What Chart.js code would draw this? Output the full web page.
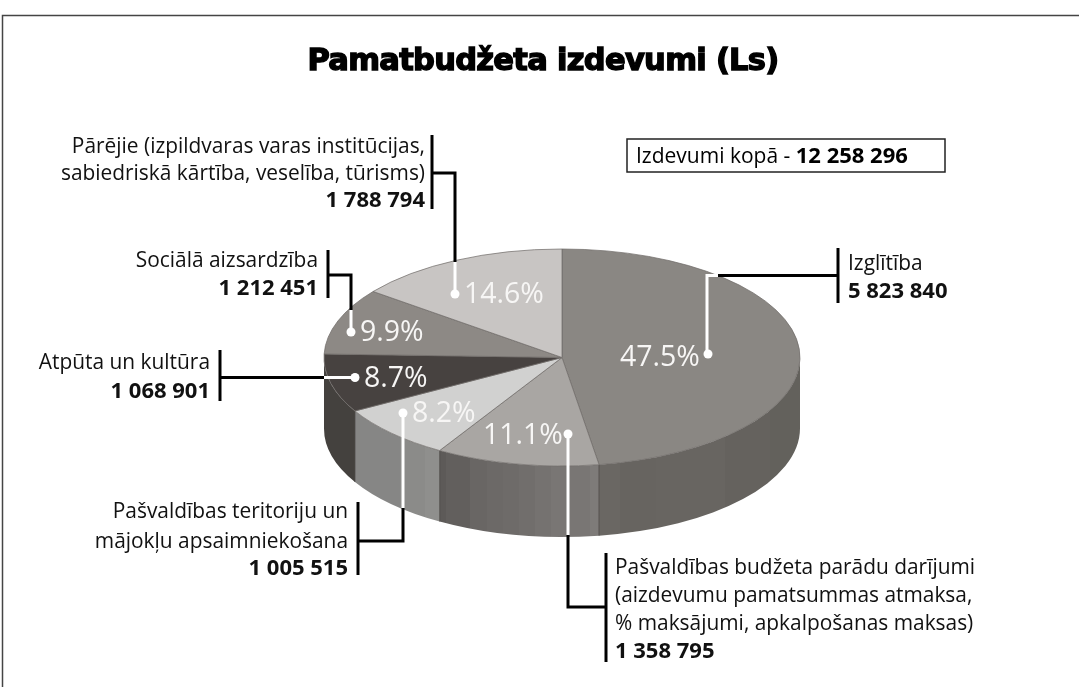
<!DOCTYPE html>
<html>
<head>
<meta charset="utf-8">
<title>Pamatbudžeta izdevumi (Ls)</title>
<script src="https://cdn.jsdelivr.net/npm/chart.js@4"></script>
<style>
    html, body { margin: 0; padding: 0; background: #fff; overflow: hidden; }
    canvas { display: block; }
</style>
</head>
<body>
<canvas id="pie" width="1079" height="687"></canvas>
<script>
/* ── dati ── */
const categories = ['Izglītība', 'Pašvaldības budžeta parādu darījumi', 'Pašvaldības teritoriju un mājokļu apsaimniekošana', 'Atpūta un kultūra', 'Sociālā aizsardzība', 'Pārējie'];
const amounts = [5823840, 1358795, 1005515, 1068901, 1212451, 1788794];
const amountLabels = ['5 823 840', '1 358 795', '1 005 515', '1 068 901', '1 212 451', '1 788 794'];
const totalLabel = '12 258 296';
const titleText = 'Pamatbudžeta izdevumi (Ls)';

/* ── izskats ── */
const topColors = ['#8a8783', '#a9a6a3', '#d1d1d0', '#474240', '#8d8985', '#c8c5c3'];
const sideBands = [
    [[598, '#6a6763'], [620, '#676460'], [656, '#686561'], [725, '#65625e'], [770, '#63615c'], [802, '#5f5d59']],
    [[439, '#5d5a58'], [446, '#625f5d'], [470, '#696664'], [487, '#6c6967'], [503, '#6e6b69'], [519, '#716e6c'], [535, '#757270'], [551, '#797674'], [590, '#7e7b79'], [599, '#85827f']],
    [[354, '#868685'], [400, '#8b8b89'], [425, '#8f8f8d'], [440, '#888886']],
    [[323, '#44413e'], [356, '#403d3a']],
];
const PIE = { rx: 238, ry: 108.5, cy: 357.5, depth: 71 };
const FONT = '"Open Sans", sans-serif';

// teksta bloki: x, izlīdzināšana, rindu bāzes līnijas; pēdējā rinda treknrakstā
const textBlocks = [
    { x: 848, align: 'left', rows: [['Izglītība', 270], [amountLabels[0], 298]] },
    { x: 615, align: 'left', rows: [['Pašvaldības budžeta parādu darījumi', 574], ['(aizdevumu pamatsummas atmaksa,', 602], ['% maksājumi, apkalpošanas maksas)', 630], [amountLabels[1], 658]] },
    { x: 348, align: 'right', rows: [['Pašvaldības teritoriju un', 518], ['mājokļu apsaimniekošana', 548], [amountLabels[2], 575]] },
    { x: 210, align: 'right', rows: [['Atpūta un kultūra', 369], [amountLabels[3], 398]] },
    { x: 318, align: 'right', rows: [['Sociālā aizsardzība', 267], [amountLabels[4], 295]] },
    { x: 425, align: 'right', rows: [['Pārējie (izpildvaras varas institūcijas,', 153], ['sabiedriskā kārtība, veselība, tūrisms)', 180], [amountLabels[5], 207]] },
];
const percentPos = [[620, 366], [483, 444], [412, 422], [364, 387], [360, 341], [464, 303]];

// līderlīnijas: melnā daļa, baltā daļa, punkts
const leaders = [
    { black: [[[838, 248], [838, 303]], [[838, 275.5], [718, 275.5]]], white: [[718, 275.5], [707, 275.5], [707, 354]], dot: [708, 354] },
    { black: [[[606, 553], [606, 662]], [[606, 607], [568, 607], [568, 535]]], white: [[568, 535], [568, 434]], dot: [568, 434] },
    { black: [[[358, 502], [358, 575]], [[358, 541], [403, 541], [403, 508]]], white: [[403, 508], [403, 413]], dot: [403, 413] },
    { black: [[[220, 350], [220, 401]], [[220, 377.5], [324, 377.5]]], white: [[324, 377.5], [355, 377.5]], dot: [355, 377.5] },
    { black: [[[328, 250], [328, 298]], [[328, 275], [351, 275], [351, 310]]], white: [[351, 310], [351, 332]], dot: [351, 332] },
    { black: [[[432, 135], [432, 209]], [[432, 173], [455, 173], [455, 262]]], white: [[455, 262], [455, 294]], dot: [455, 294] },
];

function polyline(ctx, pts, color, width) {
    ctx.strokeStyle = color;
    ctx.lineWidth = width;
    ctx.lineJoin = 'miter';
    ctx.lineCap = 'butt';
    ctx.beginPath();
    pts.forEach(([x, y], i) => (i ? ctx.lineTo(x, y) : ctx.moveTo(x, y)));
    ctx.stroke();
}

function bandFill(ctx, bands) {
    const x0 = bands[0][0], x1 = bands[bands.length - 1][0];
    const grad = ctx.createLinearGradient(x0, 0, x1, 0);
    bands.forEach(([x, c], i) => {
        if (i < bands.length - 1) {
            grad.addColorStop((x - x0) / (x1 - x0), c);
            grad.addColorStop(Math.max(0, (bands[i + 1][0] - x0) / (x1 - x0) - 0.0001), c);
        }
    });
    return grad;
}

// 3D sāni: lokus ņem no Chart.js elementiem
const sidesPlugin = {
    id: 'sides',
    beforeDatasetsDraw(chart) {
        const ctx = chart.ctx;
        const arcs = chart.getDatasetMeta(0).data;
        const k = PIE.ry / PIE.rx;
        arcs.forEach((arc, i) => {
            const bands = sideBands[i];
            if (!bands) return;
            const a0 = Math.max(arc.startAngle, 0);
            const a1 = Math.min(arc.endAngle, Math.PI);
            if (a1 <= a0) return;
            const r = arc.outerRadius;
            ctx.save();
            ctx.beginPath();
            ctx.ellipse(arc.x, PIE.cy, r, r * k, 0, a0, a1);
            ctx.ellipse(arc.x, PIE.cy + PIE.depth, r, r * k, 0, a1, a0, true);
            ctx.closePath();
            ctx.fillStyle = bandFill(ctx, bands);
            ctx.fill();
            // tumšā šuve starp sektoriem
            if (a0 > 0) {
                const ex = arc.x + r * Math.cos(a0);
                const ey = PIE.cy + r * k * Math.sin(a0);
                polyline(ctx, [[ex, ey], [ex, ey + PIE.depth]], 'rgba(60,56,52,0.7)', 1);
            }
            ctx.restore();
        });
        // augšējā virsma ir saspiesta elipsē
        const first = arcs[0];
        ctx.save();
        ctx.translate(first.x, PIE.cy);
        ctx.scale(1, k);
        ctx.translate(-first.x, -first.y);
    },
    afterDatasetsDraw(chart) {
        chart.ctx.restore();
    },
};

const overlayPlugin = {
    id: 'overlay',
    afterDraw(chart) {
        const ctx = chart.ctx;
        const total = amounts.reduce((a, b) => a + b, 0);
        ctx.save();

        // rāmis
        polyline(ctx, [[2.5, 687], [2.5, 15.5], [1079, 15.5]], '#444', 1.5);

        // virsraksts
        ctx.textAlign = 'center';
        ctx.textBaseline = 'alphabetic';
        ctx.font = `bold 30.5px "DejaVu Sans", sans-serif`;
        ctx.letterSpacing = '-0.7px';
        ctx.fillStyle = '#000';
        ctx.strokeStyle = '#000';
        ctx.lineWidth = 1.4;
        ctx.fillText(titleText, 543, 70);
        ctx.strokeText(titleText, 543, 70);
        ctx.letterSpacing = '0px';

        // kopsumma
        ctx.strokeStyle = '#222';
        ctx.lineWidth = 1.5;
        ctx.strokeRect(627, 139, 318, 33);
        ctx.textAlign = 'left';
        ctx.font = `21px ${FONT}`;
        const prefix = 'Izdevumi kopā - ';
        ctx.fillText(prefix, 636, 163);
        const w = ctx.measureText(prefix).width;
        ctx.font = `bold 22px ${FONT}`;
        ctx.fillText(totalLabel, 636 + w, 163);

        // līderlīnijas
        leaders.forEach(l => {
            l.black.forEach(p => polyline(ctx, p, '#000', 3));
            polyline(ctx, l.white, '#fff', 3);
            ctx.fillStyle = '#fff';
            ctx.beginPath();
            ctx.arc(l.dot[0], l.dot[1], 4.5, 0, Math.PI * 2);
            ctx.fill();
        });

        // procenti
        ctx.textAlign = 'left';
        ctx.font = `28.5px ${FONT}`;
        ctx.fillStyle = '#f7f6f5';
        amounts.forEach((v, i) => {
            ctx.fillText((v / total * 100).toFixed(1) + '%', percentPos[i][0], percentPos[i][1]);
        });

        // paraksti
        ctx.fillStyle = '#111';
        textBlocks.forEach(b => {
            ctx.textAlign = b.align;
            b.rows.forEach(([t, y], i) => {
                ctx.font = i === b.rows.length - 1 ? `bold 22px ${FONT}` : `20.9px ${FONT}`;
                ctx.fillText(t, b.x, y);
            });
        });
        ctx.restore();
    },
};

new Chart(document.getElementById('pie'), {
    type: 'pie',
    data: {
        labels: categories,
        datasets: [{
            data: amounts,
            backgroundColor: topColors,
            borderColor: '#6f6c69',
            borderWidth: 1,
            radius: PIE.rx,
        }],
    },
    options: {
        responsive: false,
        animation: false,
        layout: { padding: { left: 45, right: 0, top: 0, bottom: 0 } },
        plugins: { legend: { display: false }, tooltip: { enabled: false }, title: { display: false } },
    },
    plugins: [sidesPlugin, overlayPlugin],
});
</script>
</body>
</html>
